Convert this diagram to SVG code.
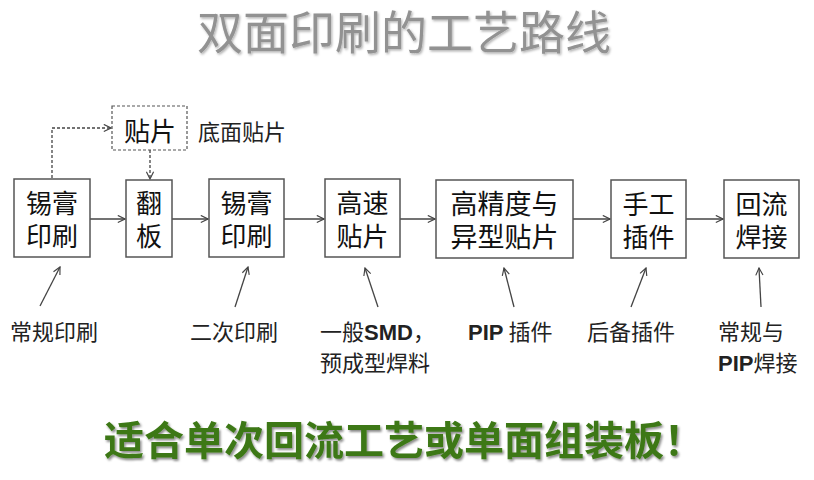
<svg xmlns="http://www.w3.org/2000/svg" width="814" height="480" viewBox="0 0 814 480">
<defs>
<style>
.box{fill:#fff;stroke:#555;stroke-width:1.5}
.dbox{fill:#fff;stroke:#555;stroke-width:1.2;stroke-dasharray:3,2}
.t{font-family:"Noto Sans CJK SC","Noto Sans",sans-serif;fill:#111;text-anchor:middle}
.bt{font-size:26px}
.lbl{font-family:"Noto Sans CJK SC","Noto Sans",sans-serif;font-size:22px;fill:#222}
.lat{font-family:"Liberation Sans","Noto Sans CJK SC",sans-serif;font-weight:bold}
.conn{fill:none;stroke:#444;stroke-width:1.3}
.dash{stroke-dasharray:3,2}
</style>
<marker id="ah" viewBox="0 0 10 10" refX="9" refY="5" markerWidth="9" markerHeight="9" markerUnits="userSpaceOnUse" orient="auto">
<path d="M1,1 L9,5 L1,9" fill="none" stroke="#444" stroke-width="1.3"/>
</marker>
<filter id="sh" x="-5%" y="-20%" width="110%" height="150%">
<feDropShadow dx="1.5" dy="2" stdDeviation="1.2" flood-color="#000" flood-opacity="0.45"/>
</filter>
<filter id="sh2" x="-5%" y="-20%" width="110%" height="150%">
<feDropShadow dx="1.2" dy="1.5" stdDeviation="1" flood-color="#000" flood-opacity="0.3"/>
</filter>
</defs>
<rect width="814" height="480" fill="#fff"/>

<g id="title">
<text x="404" y="49" font-family="'Noto Sans CJK SC',sans-serif" font-size="46" font-weight="400" fill="#929292" text-anchor="middle" filter="url(#sh2)">双面印刷的工艺路线</text>
</g>

<g id="connectors">
<path class="conn" d="M90,219 H125" marker-end="url(#ah)"/>
<path class="conn" d="M172,219 H208" marker-end="url(#ah)"/>
<path class="conn" d="M284,219 H324" marker-end="url(#ah)"/>
<path class="conn" d="M400,219 H435" marker-end="url(#ah)"/>
<path class="conn" d="M573,219 H610" marker-end="url(#ah)"/>
<path class="conn" d="M686,219 H723" marker-end="url(#ah)"/>
<path class="conn dash" d="M52,178 V128 H111" marker-end="url(#ah)"/>
<path class="conn dash" d="M150,150 V179" marker-end="url(#ah)"/>
<path class="conn" d="M40,306 L60,267" marker-end="url(#ah)"/>
<path class="conn" d="M235,307 L248,267" marker-end="url(#ah)"/>
<path class="conn" d="M378,307 L365,268" marker-end="url(#ah)"/>
<path class="conn" d="M514,307 L504,268" marker-end="url(#ah)"/>
<path class="conn" d="M631,307 L646,268" marker-end="url(#ah)"/>
<path class="conn" d="M761,307 L759,268" marker-end="url(#ah)"/>
</g>

<g id="n1"><rect class="box" x="14" y="179" width="76" height="78"/><text class="t bt" x="52" y="213">锡膏</text><text class="t bt" x="52" y="246">印刷</text></g>
<g id="n_bottom"><rect class="dbox" x="112" y="106" width="75" height="44"/><text class="t bt" x="150" y="141">贴片</text></g>
<g id="n2"><rect class="box" x="126" y="180" width="46" height="77"/><text class="t bt" x="149" y="213">翻</text><text class="t bt" x="149" y="246">板</text></g>
<g id="n3"><rect class="box" x="209" y="179" width="75" height="78"/><text class="t bt" x="246.5" y="213">锡膏</text><text class="t bt" x="246.5" y="246">印刷</text></g>
<g id="n4"><rect class="box" x="325" y="179" width="75" height="78"/><text class="t bt" x="362.5" y="213">高速</text><text class="t bt" x="362.5" y="246">贴片</text></g>
<g id="n5"><rect class="box" x="436" y="180" width="137" height="78"/><text class="t" font-size="27" x="504.5" y="214">高精度与</text><text class="t" font-size="27" x="504.5" y="247">异型贴片</text></g>
<g id="n6"><rect class="box" x="611" y="180" width="75" height="78"/><text class="t bt" x="648.5" y="214">手工</text><text class="t bt" x="648.5" y="247">插件</text></g>
<g id="n7"><rect class="box" x="724" y="180" width="75" height="78"/><text class="t bt" x="761.5" y="214">回流</text><text class="t bt" x="761.5" y="247">焊接</text></g>

<g id="labels">
<text class="lbl" x="198" y="140" font-size="21">底面贴片</text>
<text class="lbl" x="10" y="340">常规印刷</text>
<text class="lbl" x="190" y="340">二次印刷</text>
<text class="lbl" x="320" y="340">一般<tspan class="lat">SMD</tspan>，</text>
<text class="lbl" x="320" y="371">预成型焊料</text>
<text class="lbl" x="468" y="340"><tspan class="lat">PIP</tspan> 插件</text>
<text class="lbl" x="587" y="340">后备插件</text>
<text class="lbl" x="718" y="340">常规与</text>
<text class="lbl" x="718" y="371"><tspan class="lat">PIP</tspan>焊接</text>
</g>

<g id="footer">
<text x="404" y="455" font-family="'Noto Sans CJK SC',sans-serif" font-size="40" font-weight="bold" fill="#3d7818" text-anchor="middle" filter="url(#sh)">适合单次回流工艺或单面组装板！</text>
</g>
</svg>
